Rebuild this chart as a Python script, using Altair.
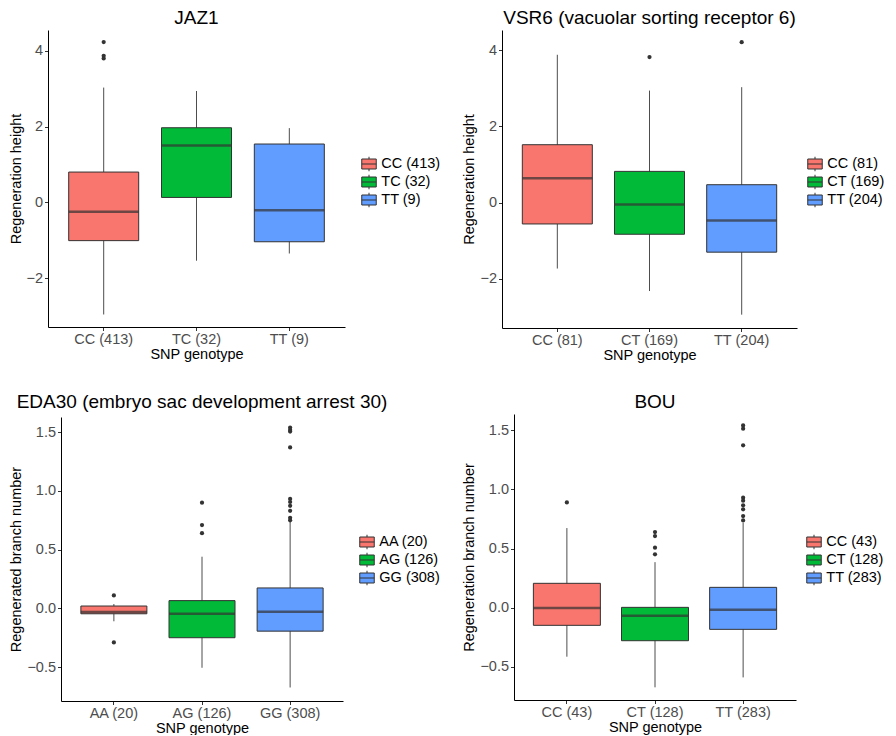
import altair as alt
import pandas as pd

FONT = "Liberation Sans"
COLORS = ["#F8766D", "#00BA38", "#619CFF"]

# ---- JAZ1 ----
JAZ1_GENOTYPES = ["CC (413)", "TC (32)", "TT (9)"]
JAZ1_LOWER = [-2.96, -1.54, -1.35]
JAZ1_Q1 = [-1.01, 0.13, -1.04]
JAZ1_MEDIAN = [-0.25, 1.50, -0.21]
JAZ1_Q3 = [0.80, 1.97, 1.54]
JAZ1_UPPER = [3.03, 2.94, 1.96]
JAZ1_OUT_GENO = ["CC (413)", "CC (413)", "CC (413)"]
JAZ1_OUT_VAL = [4.23, 3.87, 3.80]

# ---- VSR6 ----
VSR6_GENOTYPES = ["CC (81)", "CT (169)", "TT (204)"]
VSR6_LOWER = [-1.73, -2.32, -2.94]
VSR6_Q1 = [-0.56, -0.83, -1.30]
VSR6_MEDIAN = [0.64, -0.05, -0.47]
VSR6_Q3 = [1.52, 0.82, 0.47]
VSR6_UPPER = [3.88, 2.94, 3.03]
VSR6_OUT_GENO = ["CT (169)", "TT (204)"]
VSR6_OUT_VAL = [3.82, 4.21]

# ---- EDA30 ----
EDA30_GENOTYPES = ["AA (20)", "AG (126)", "GG (308)"]
EDA30_LOWER = [-0.11, -0.506, -0.674]
EDA30_Q1 = [-0.046, -0.25, -0.194]
EDA30_MEDIAN = [-0.03, -0.046, -0.029]
EDA30_Q3 = [0.02, 0.066, 0.174]
EDA30_UPPER = [0.037, 0.44, 0.737]
EDA30_OUT_GENO = ["AA (20)", "AA (20)", "AG (126)", "AG (126)", "AG (126)",
                  "GG (308)", "GG (308)", "GG (308)", "GG (308)", "GG (308)",
                  "GG (308)", "GG (308)", "GG (308)", "GG (308)", "GG (308)"]
EDA30_OUT_VAL = [0.11, -0.29, 0.90, 0.71, 0.64,
                 1.54, 1.52, 1.506, 1.371, 0.932, 0.906, 0.874, 0.831, 0.771, 0.75]

# ---- BOU ----
BOU_GENOTYPES = ["CC (43)", "CT (128)", "TT (283)"]
BOU_LOWER = [-0.414, -0.673, -0.589]
BOU_Q1 = [-0.149, -0.279, -0.183]
BOU_MEDIAN = [-0.003, -0.068, -0.017]
BOU_Q3 = [0.206, 0.003, 0.172]
BOU_UPPER = [0.673, 0.385, 0.718]
BOU_OUT_GENO = ["CC (43)", "CT (128)", "CT (128)", "CT (128)", "CT (128)",
                "TT (283)", "TT (283)", "TT (283)", "TT (283)", "TT (283)",
                "TT (283)", "TT (283)", "TT (283)", "TT (283)"]
BOU_OUT_VAL = [0.89, 0.639, 0.605, 0.507, 0.451,
               1.54, 1.513, 1.372, 0.93, 0.904, 0.865, 0.831, 0.774, 0.738]

GLYPH = "M-1,-0.69H1V0.69H-1Z M-1,0H1 M0,-0.69V-1 M0,0.69V1"


def panel(title, ytitle, genos, lower, q1, med, q3, upper, out_g, out_v,
          ydomain, yticks, fmt, width, height, box, legx, legy, shift=0, ytp=3,
          toff=2.5):
    stats = pd.DataFrame({"genotype": genos, "lower": lower, "q1": q1,
                          "median": med, "q3": q3, "upper": upper})
    outs = pd.DataFrame({"genotype": out_g, "value": out_v})
    if shift:
        xscale = alt.Scale(paddingInner=0, paddingOuter=0.1, range=[-shift, width])
    else:
        xscale = alt.Scale(paddingInner=0, paddingOuter=0.1)
    xaxis = alt.Axis(title="SNP genotype", labelAngle=0, titlePadding=2,
                     labelPadding=1.5, tickSize=3.5)
    X = alt.X("genotype:N", sort=genos, scale=xscale, axis=xaxis)
    yscale = alt.Scale(domain=ydomain, nice=False, zero=False)
    yaxis = alt.Axis(title=ytitle, values=yticks, format=fmt, titlePadding=ytp,
                     labelPadding=2, tickSize=3.5, offset=shift)

    whisk = alt.Chart(stats).mark_rule(color="#4d4d4d", strokeWidth=1).encode(
        x=X, y=alt.Y("lower:Q", scale=yscale, axis=yaxis), y2="upper:Q")
    bars = alt.Chart(stats).mark_bar(size=box, stroke="#333333", strokeWidth=1).encode(
        x=X, y=alt.Y("q1:Q", scale=yscale, axis=yaxis), y2="q3:Q",
        fill=alt.Fill("genotype:N", sort=genos, title=None,
                      scale=alt.Scale(domain=genos, range=COLORS),
                      legend=alt.Legend(orient="none", legendX=legx, legendY=legy,
                                        symbolType=GLYPH, symbolSize=210,
                                        symbolStrokeColor="#333333",
                                        symbolStrokeWidth=1, labelFontSize=14.5,
                                        labelFont=FONT, labelColor="black",
                                        labelOffset=4.3, rowPadding=-2, padding=0)))
    meds = alt.Chart(stats).mark_tick(orient="horizontal", size=box, thickness=2.5,
                                      color="#333333").encode(
        x=X, y=alt.Y("median:Q", scale=yscale, axis=yaxis))
    pts = alt.Chart(outs).mark_circle(size=18, color="#333333", opacity=1).encode(
        x=X, y=alt.Y("value:Q", scale=yscale, axis=yaxis))
    return alt.layer(whisk, bars, meds, pts).properties(
        width=width, height=height,
        title=alt.TitleParams(title, fontSize=19, font=FONT, fontWeight="normal",
                              color="black", anchor="middle", frame="group",
                              offset=toff, dx=-shift / 2))


p1 = panel("JAZ1", "Regeneration height", JAZ1_GENOTYPES, JAZ1_LOWER, JAZ1_Q1,
           JAZ1_MEDIAN, JAZ1_Q3, JAZ1_UPPER, JAZ1_OUT_GENO, JAZ1_OUT_VAL,
           [-3.29, 4.55], [-2, 0, 2, 4], "d", 284, 297, 70, 300, 126, shift=13, ytp=2)
p2 = panel("VSR6 (vacuolar sorting receptor 6)", "Regeneration height", VSR6_GENOTYPES,
           VSR6_LOWER, VSR6_Q1, VSR6_MEDIAN, VSR6_Q3, VSR6_UPPER, VSR6_OUT_GENO,
           VSR6_OUT_VAL, [-3.29, 4.53], [-2, 0, 2, 4], "d", 295, 298, 70, 305, 126)
p3 = panel("EDA30 (embryo sac development arrest 30)", "Regenerated branch number",
           EDA30_GENOTYPES, EDA30_LOWER, EDA30_Q1, EDA30_MEDIAN, EDA30_Q3, EDA30_UPPER,
           EDA30_OUT_GENO, EDA30_OUT_VAL, [-0.789, 1.63], [-0.5, 0.0, 0.5, 1.0, 1.5],
           ".1f", 282, 284, 66, 298, 117, toff=5.5)
p4 = panel("BOU", "Regeneration branch number", BOU_GENOTYPES, BOU_LOWER, BOU_Q1,
           BOU_MEDIAN, BOU_Q3, BOU_UPPER, BOU_OUT_GENO, BOU_OUT_VAL,
           [-0.78, 1.637], [-0.5, 0.0, 0.5, 1.0, 1.5], ".1f", 282, 286, 67, 292, 120)

res = dict(x="independent", y="independent", fill="independent")
chart = alt.concat(p1, p2, p3, p4, columns=2, align="none",
                   spacing={"row": 30, "column": 20}).resolve_scale(**res).resolve_legend(
    fill="independent").properties(
    padding={"left": 0, "top": 0, "right": 0, "bottom": 0}
).configure_view(stroke=None).configure_axis(
    grid=False, labelFont=FONT, labelFontSize=14.5, labelColor="#4d4d4d",
    titleFont=FONT, titleFontSize=14.5, titleColor="black", titleFontWeight="normal",
    domainColor="black", domainWidth=1, tickColor="#333333", tickWidth=1
)

chart.save("out.html", embed_options={"renderer": "svg", "actions": False})
